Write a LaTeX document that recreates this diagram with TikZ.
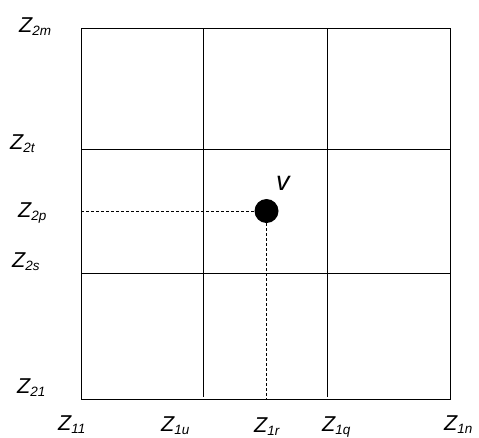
\documentclass[tikz,border=0pt]{standalone}
\usepackage{fontspec}
\setmainfont{Liberation Sans}
\def \zs#1{Z\raisebox{-.3ex}{\fontsize{13.5}{14}\selectfont #1}}

\begin{document}
\begin{tikzpicture}[x=1pt, y=-1pt,
    lab/.style={inner sep=0pt, anchor=base west, font=\fontsize{21.5}{24}\selectfont\itshape},
    gridline/.style={line width=0.8pt},
    guide/.style={line width=0.8pt, dash pattern=on 3pt off 2pt}]
    \useasboundingbox (0,0) rectangle (479,437);
    % the square and its cells
    \draw[gridline] (81,28) rectangle (450,399);
    \draw[gridline] (203.5,28) -- (203.5,397);
    \draw[gridline] (327,28) -- (327,397);
    \draw[gridline] (81,149) -- (450,149);
    \draw[gridline] (81,273) -- (450,273);
    % the point and its projections
    \node[circle, fill=black, minimum size=24pt, inner sep=0pt] (dot) at (266.5,211) {};
    \coordinate (P) at (81,211);
    \coordinate (R) at (266.5,399);
    \draw[guide] (P) -- (dot);
    \draw[guide] (dot) -- (R);
    \node[lab, font=\fontsize{27}{29}\selectfont\itshape] (V) at (276,190) {v};
    % row labels
    \node[lab] (Z2m) at (19,32) {\zs{2m}};
    \node[lab] (Z2t) at (10,149) {\zs{2t}};
    \node[lab] (Z2p) at (18,217) {\zs{2p}};
    \node[lab] (Z2s) at (12,267) {\zs{2s}};
    \node[lab] (Z21) at (17,393) {\zs{21}};
    % column labels
    \node[lab] (Z11) at (58,430) {\zs{11}};
    \node[lab] (Z1u) at (161,431) {\zs{1u}};
    \node[lab] (Z1r) at (254,432) {\zs{1r}};
    \node[lab] (Z1q) at (322,431) {\zs{1q}};
    \node[lab] (Z1n) at (444,430) {\zs{1n}};
\end{tikzpicture}
\end{document}
